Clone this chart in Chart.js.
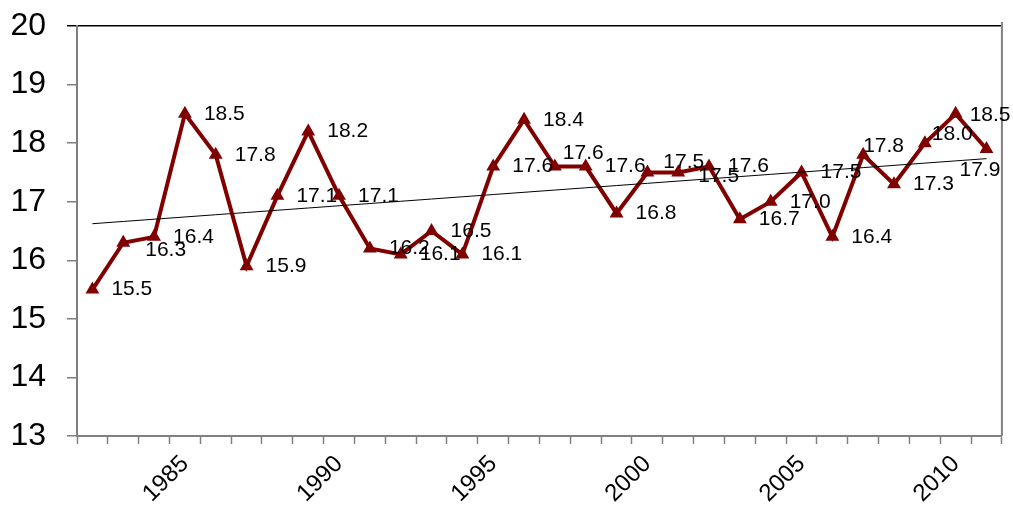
<!DOCTYPE html>
<html>
<head>
<meta charset="utf-8">
<title>Annual mean 1982–2011</title>
<script src="https://cdn.jsdelivr.net/npm/chart.js@4.4.1/dist/chart.umd.min.js"></script>
<style>
  html, body { margin: 0; padding: 0; background: #fff; }
  #wrap { width: 1013px; height: 506px; }
</style>
</head>
<body>
<div id="wrap"><canvas id="chart" width="1013" height="506"></canvas></div>
<script>
// Years on the category axis
const years = [1982, 1983, 1984, 1985, 1986, 1987, 1988, 1989, 1990, 1991,
               1992, 1993, 1994, 1995, 1996, 1997, 1998, 1999, 2000, 2001,
               2002, 2003, 2004, 2005, 2006, 2007, 2008, 2009, 2010, 2011];

// Annual values
const values = [15.5, 16.3, 16.4, 18.5, 17.8, 15.9, 17.1, 18.2, 17.1, 16.2,
                16.1, 16.5, 16.1, 17.6, 18.4, 17.6, 17.6, 16.8, 17.5, 17.5,
                17.6, 16.7, 17.0, 17.5, 16.4, 17.8, 17.3, 18.0, 18.5, 17.9];

// Value-axis ticks
const yTicks = [13, 14, 15, 16, 17, 18, 19, 20];

// Years that get a label on the category axis
const labelledYears = [1985, 1990, 1995, 2000, 2005, 2010];

// Label placement: default sits to the right of the marker; a few are nudged
const LABEL_DEFAULT = [19, 0];
const labelPlacement = {
  1983: [22, 7],
  1997: [8, -13],
  2000: [16, -10],
  2001: [20, 4],
  2007: [0, -9],
  2009: [7, -9],
  2010: [14, 1],
  2011: [-27, 21]
};

// Least-squares linear trend over the series
function linearTrend(ys) {
  const n = ys.length;
  let sx = 0, sy = 0, sxy = 0, sxx = 0;
  ys.forEach((y, i) => { sx += i; sy += y; sxy += i * y; sxx += i * i; });
  const slope = (n * sxy - sx * sy) / (n * sxx - sx * sx);
  const icpt = (sy - slope * sx) / n;
  return ys.map((_, i) => icpt + slope * i);
}
const trend = linearTrend(values);

const FONT = "'Liberation Sans', Arial, Helvetica, sans-serif";
const RED = '#800000';
const AXIS_GREY = '#808080';

// Value labels next to each marker
const valueLabels = {
  id: 'valueLabels',
  afterDatasetsDraw(chart) {
    const meta = chart.getDatasetMeta(1);
    const ctx = chart.ctx;
    ctx.save();
    ctx.font = '21px ' + FONT;
    ctx.fillStyle = '#000';
    ctx.textAlign = 'left';
    ctx.textBaseline = 'middle';
    meta.data.forEach((pt, i) => {
      const [dx, dy] = labelPlacement[years[i]] || LABEL_DEFAULT;
      ctx.fillText(values[i].toFixed(1), pt.x + dx, pt.y + dy);
    });
    ctx.restore();
  }
};

// Right-hand edge of the plot area
const plotEdge = {
  id: 'plotEdge',
  beforeDatasetsDraw(chart) {
    const { ctx, chartArea } = chart;
    ctx.save();
    ctx.strokeStyle = AXIS_GREY;
    ctx.lineWidth = 2;
    ctx.beginPath();
    ctx.moveTo(chartArea.right, chartArea.top - 4);
    ctx.lineTo(chartArea.right, chartArea.bottom);
    ctx.stroke();
    ctx.restore();
  }
};

new Chart(document.getElementById('chart'), {
  type: 'line',
  data: {
    labels: years.map(String),
    datasets: [
      {
        label: 'Trend',
        data: trend,
        borderColor: '#000',
        borderWidth: 1,
        pointRadius: 0,
        fill: false,
        tension: 0,
        order: 0
      },
      {
        label: 'Annual',
        data: values,
        borderColor: RED,
        backgroundColor: RED,
        borderWidth: 4,
        pointStyle: 'triangle',
        pointRadius: 6.5,
        pointBorderWidth: 1.5,
        pointBackgroundColor: RED,
        pointBorderColor: RED,
        fill: false,
        tension: 0,
        order: 1
      }
    ]
  },
  options: {
    responsive: false,
    animation: false,
    devicePixelRatio: 1,
    layout: { padding: { top: 26, right: 6, left: 0, bottom: 0 } },
    plugins: {
      legend: { display: false },
      tooltip: { enabled: false },
      title: { display: false }
    },
    scales: {
      x: {
        type: 'category',
        offset: true,
        grid: {
          offset: true,
          drawOnChartArea: false,
          drawTicks: true,
          tickLength: 8,
          tickColor: AXIS_GREY,
          tickWidth: 1.5
        },
        border: { display: true, color: AXIS_GREY, width: 2 },
        ticks: {
          autoSkip: false,
          minRotation: 45,
          maxRotation: 45,
          padding: 6,
          color: '#000',
          font: { family: FONT, size: 24 },
          callback(val, idx) {
            const y = years[idx];
            return labelledYears.includes(y) ? String(y) : '';
          }
        },
        afterFit(scale) { scale.height = 70; }
      },
      y: {
        min: yTicks[0],
        max: yTicks[yTicks.length - 1],
        afterBuildTicks(scale) {
          scale.ticks = yTicks.map(v => ({ value: v }));
        },
        grid: {
          drawOnChartArea: true,
          drawTicks: true,
          tickLength: 10,
          color: c => (c.tick && c.tick.value === yTicks[yTicks.length - 1]) ? '#000' : 'rgba(0,0,0,0)',
          tickColor: c => (c.tick && c.tick.value === yTicks[yTicks.length - 1]) ? '#000' : AXIS_GREY,
          lineWidth: 1.5,
          tickWidth: 1.5
        },
        border: { display: true, color: AXIS_GREY, width: 2 },
        ticks: {
          padding: 21,
          color: '#000',
          font: { family: FONT, size: 32 },
          callback: v => String(v)
        },
        afterFit(scale) {
          scale.width = 77;
          scale.paddingTop = 0;
          scale.paddingBottom = 0;
        }
      }
    }
  },
  plugins: [plotEdge, valueLabels]
});
</script>
</body>
</html>
